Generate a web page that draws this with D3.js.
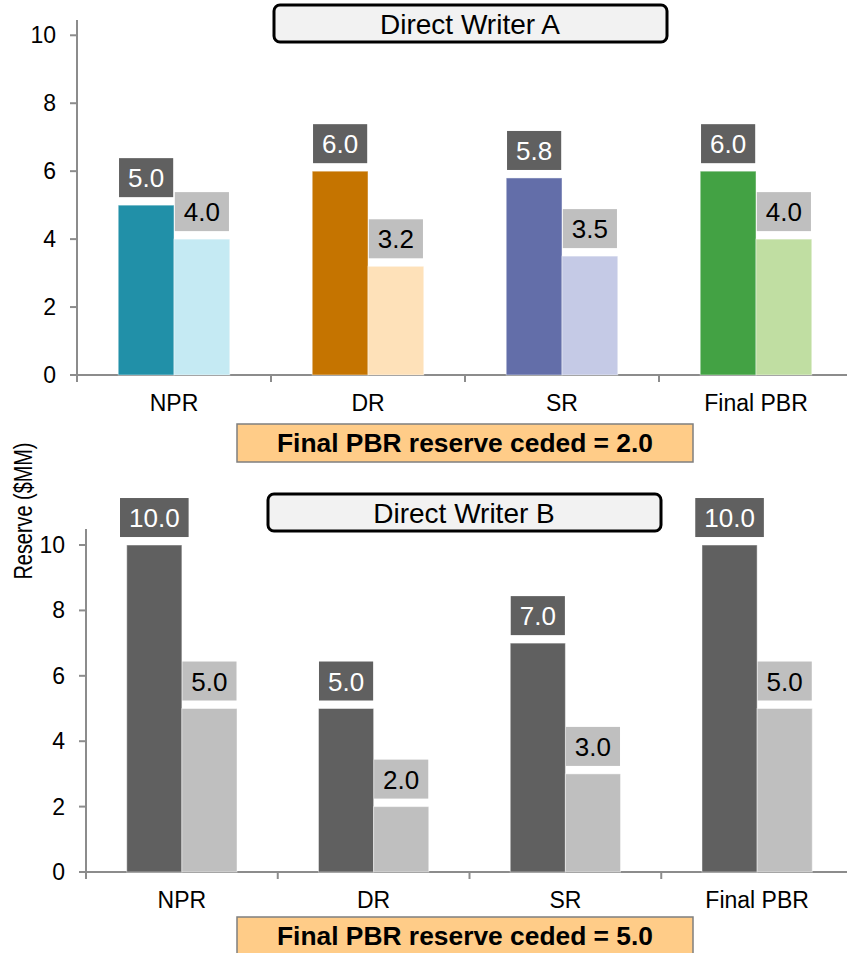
<!DOCTYPE html>
<html><head><meta charset="utf-8">
<script src="https://cdn.jsdelivr.net/npm/d3@7"></script>
<style>body{margin:0;background:#fff}svg{display:block}text{font-family:"Liberation Sans",Arial,sans-serif}</style>
</head><body>
<svg id="c" width="847" height="953"></svg>
<script>
const categories = ["NPR","DR","SR","Final PBR"];
const yTicks = [0,2,4,6,8,10];
const writerA_direct = [5.0,6.0,5.8,6.0];
const writerA_ceded  = [4.0,3.2,3.5,4.0];
const writerB_direct = [10.0,5.0,7.0,10.0];
const writerB_ceded  = [5.0,2.0,3.0,5.0];
const colorsA_direct = ["#2190a8","#c57400","#636ea9","#43a244"];
const colorsA_ceded  = ["#c5eaf3","#fee1b9","#c5cae6","#c0dea2"];
const colorsB_direct = ["#606060","#606060","#606060","#606060"];
const colorsB_ceded  = ["#bfbfbf","#bfbfbf","#bfbfbf","#bfbfbf"];
const titles = ["Direct Writer A","Direct Writer B"];
const cededNotes = ["Final PBR reserve ceded = 2.0","Final PBR reserve ceded = 5.0"];
const yTitle = "Reserve ($MM)";

const svg = d3.select("#c");
const axisColor = "#8c8c8c";

function panel(cfg){
  const g = svg.append("g");
  const x = d3.scaleBand().domain(categories).range([cfg.x0, cfg.x1]).paddingInner(0).paddingOuter(0);
  const y = d3.scaleLinear().domain([0, cfg.ymax]).range([cfg.yBottom, cfg.yTop]);
  const groupW = x.bandwidth()*0.575, bw = groupW/2;
  // axes
  g.append("line").attr("x1",cfg.x0).attr("x2",cfg.x0).attr("y1",y(cfg.ymax)).attr("y2",y(0)+7)
    .attr("stroke",axisColor).attr("stroke-width",2);
  g.append("line").attr("x1",cfg.x0-7).attr("x2",860).attr("y1",y(0)).attr("y2",y(0))
    .attr("stroke",axisColor).attr("stroke-width",2);
  g.selectAll(".yt").data(yTicks).enter().append("line")
    .attr("x1",cfg.x0-7).attr("x2",cfg.x0).attr("y1",d=>y(d)).attr("y2",d=>y(d))
    .attr("stroke",axisColor).attr("stroke-width",2);
  g.selectAll(".ytl").data(yTicks).enter().append("text")
    .attr("x",cfg.x0-21).attr("y",d=>y(d)+8).attr("text-anchor","end")
    .attr("font-size",23).attr("fill","#000").text(d=>d);
  g.selectAll(".xt").data(categories.slice(1)).enter().append("line")
    .attr("x1",d=>x(d)).attr("x2",d=>x(d)).attr("y1",y(0)).attr("y2",y(0)+7)
    .attr("stroke",axisColor).attr("stroke-width",2);
  g.selectAll(".xtl").data(categories).enter().append("text")
    .attr("x",d=>x(d)+x.bandwidth()/2).attr("y",y(0)+36).attr("text-anchor","middle")
    .attr("font-size",23).attr("fill","#000").text(d=>d);
  // bars
  const series = [
    {vals:cfg.direct, cols:cfg.dcol, off:-bw, lab:"#606060", txt:"#fff"},
    {vals:cfg.ceded, cols:cfg.ccol, off:0, lab:"#bfbfbf", txt:"#000"}
  ];
  series.forEach(s=>{
    categories.forEach((c,i)=>{
      const cx = x(c)+x.bandwidth()/2 + s.off;
      g.append("rect").attr("x",cx).attr("y",y(s.vals[i])).attr("width",bw)
        .attr("height",y(0)-y(s.vals[i])).attr("fill",s.cols[i])
        .attr("stroke","#fff").attr("stroke-opacity",0.45).attr("stroke-width",1);
    });
  });
  series.forEach(s=>{
    categories.forEach((c,i)=>{
      const cx = x(c)+x.bandwidth()/2 + s.off + bw/2;
      const top = y(s.vals[i]);
      const lg = g.append("g");
      const r = lg.append("rect");
      const t = lg.append("text").attr("x",cx).attr("y",top-8-19.5+9.5)
        .attr("text-anchor","middle").attr("font-size",26).attr("fill",s.txt)
        .text(s.vals[i].toFixed(1));
      const w = t.node().getComputedTextLength()+18;
      r.attr("x",cx-w/2).attr("y",top-8-39).attr("width",w).attr("height",39).attr("fill",s.lab);
    });
  });
  // title box
  g.append("rect").attr("x",cfg.tx).attr("y",cfg.ty).attr("width",393).attr("height",37)
    .attr("rx",6).attr("ry",6).attr("fill","#f2f2f2").attr("stroke","#000").attr("stroke-width",3);
  g.append("text").attr("x",cfg.tx+196).attr("y",cfg.ty+29).attr("text-anchor","middle")
    .attr("font-size",28).attr("fill","#000").text(cfg.title);
  // ceded note
  g.append("rect").attr("x",237).attr("y",cfg.ny).attr("width",456).attr("height",38)
    .attr("fill","#ffcc88").attr("stroke","#7f7f7f").attr("stroke-width",1.5);
  g.append("text").attr("x",465).attr("y",cfg.ny+28).attr("text-anchor","middle")
    .attr("font-size",25).attr("font-weight","bold").attr("fill","#000")
    .attr("textLength",376).attr("lengthAdjust","spacingAndGlyphs").text(cfg.note);
}

panel({x0:77,x1:853,yBottom:375,yTop:20,ymax:10.45,direct:writerA_direct,ceded:writerA_ceded,
  dcol:colorsA_direct,ccol:colorsA_ceded,tx:274,ty:5,title:titles[0],ny:424,note:cededNotes[0]});
panel({x0:86,x1:853,yBottom:872,yTop:529,ymax:10.49,direct:writerB_direct,ceded:writerB_ceded,
  dcol:colorsB_direct,ccol:colorsB_ceded,tx:268,ty:494,title:titles[1],ny:917,note:cededNotes[1]});

svg.append("text").attr("transform","translate(32,511) rotate(-90)").attr("text-anchor","middle")
  .attr("font-size",26).attr("fill","#000").attr("textLength",137).attr("lengthAdjust","spacingAndGlyphs")
  .text(yTitle);
</script>
</body></html>
